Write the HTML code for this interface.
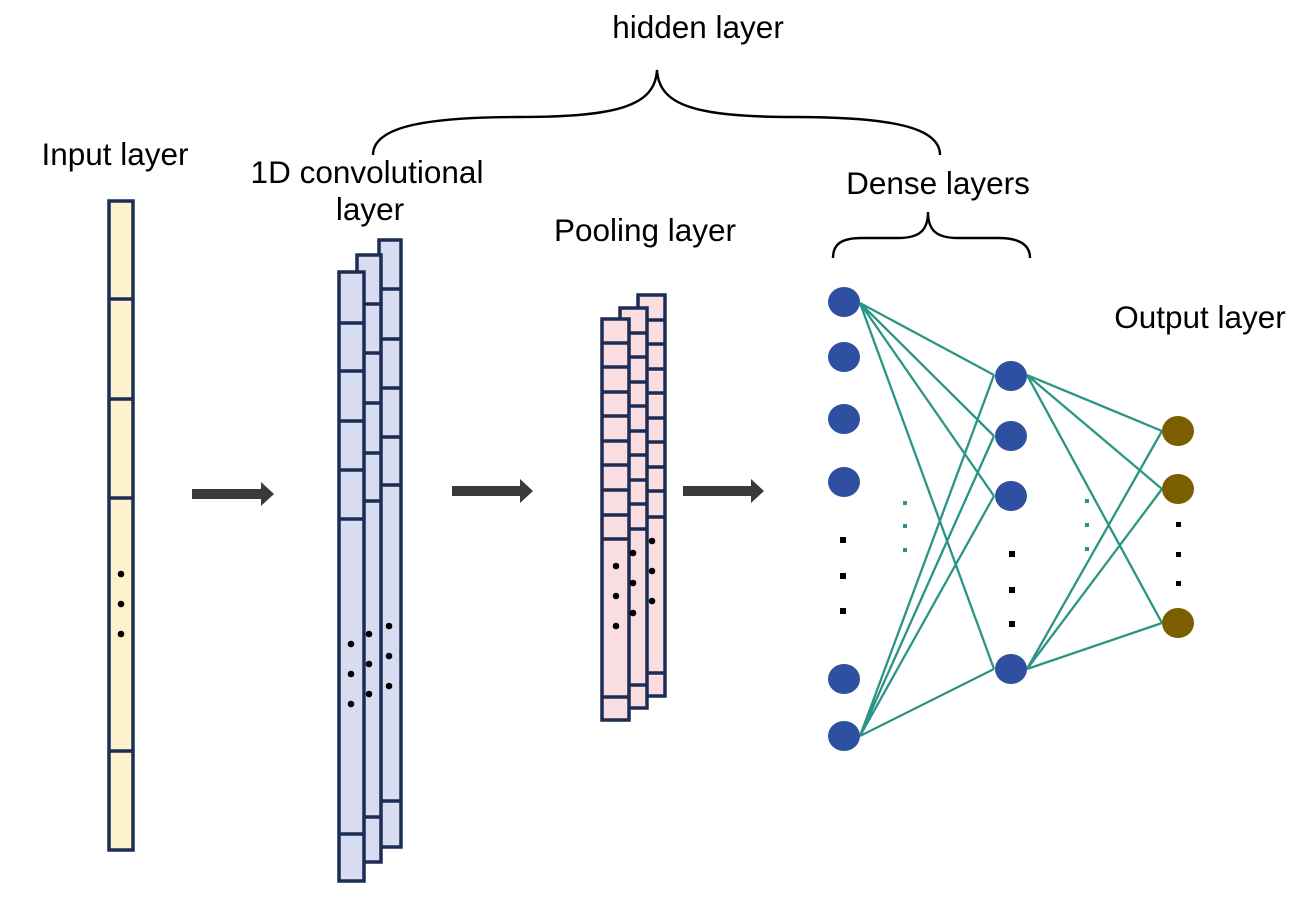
<!DOCTYPE html>
<html><head><meta charset="utf-8"><style>
html,body{margin:0;padding:0;background:#fff;}
svg text{font-family:"Liberation Sans",Arial,sans-serif;font-size:31.5px;fill:#000;}
</style></head><body>
<svg width="1306" height="908" viewBox="0 0 1306 908" xmlns="http://www.w3.org/2000/svg">
<!-- texts -->
<text x="698" y="38" text-anchor="middle">hidden layer</text>
<text x="115" y="165" text-anchor="middle">Input layer</text>
<text x="367" y="183" text-anchor="middle">1D convolutional</text>
<text x="370" y="220" text-anchor="middle">layer</text>
<text x="645" y="241" text-anchor="middle">Pooling layer</text>
<text x="938" y="194" text-anchor="middle">Dense layers</text>
<text x="1200" y="328" text-anchor="middle">Output layer</text>
<!-- braces -->
<g fill="none" stroke="#000" stroke-width="2.4">
<path d="M373,155 C373,128 420,117 520,117 C620,117 655,105 657,70 C659,105 694,117 794,117 C894,117 940,128 940,155"/>
<path d="M833,258 C833,245 840,238 862,238 L898,238 C920,238 928,230 928,212 C928,230 936,238 958,238 L998,238 C1020,238 1030,245 1030,258"/>
</g>
<!-- input layer -->
<g fill="#fdf2cc" stroke="#1c2d55" stroke-width="3.5">
<rect x="109" y="201" width="24" height="649"/>
<path d="M109,299H133M109,399H133M109,498H133M109,751H133" fill="none"/>
</g>
<g fill="#000"><circle cx="121" cy="574" r="3.3"/><circle cx="121" cy="604" r="3.3"/><circle cx="121" cy="634" r="3.3"/></g>
<!-- conv layer -->
<g fill="#d8dcf0" stroke="#1c2d55" stroke-width="3.5">
<rect x="379" y="240" width="22" height="607"/>
<path d="M379,289H401M379,339H401M379,388H401M379,437H401M379,485H401M379,801H401" fill="none"/>
<rect x="357" y="255" width="24" height="607"/>
<path d="M357,304H381M357,353H381M357,403H381M357,453H381M357,501H381M357,817H381" fill="none"/>
<rect x="339" y="272" width="25" height="609"/>
<path d="M339,323H364M339,371H364M339,421H364M339,470H364M339,519H364M339,834H364" fill="none"/>
</g>
<g fill="#000">
<circle cx="351" cy="644" r="3.3"/><circle cx="351" cy="674" r="3.3"/><circle cx="351" cy="704" r="3.3"/>
<circle cx="369" cy="634" r="3.3"/><circle cx="369" cy="664" r="3.3"/><circle cx="369" cy="694" r="3.3"/>
<circle cx="389" cy="626" r="3.3"/><circle cx="389" cy="656" r="3.3"/><circle cx="389" cy="686" r="3.3"/>
</g>
<!-- pooling layer -->
<g fill="#f9dde0" stroke="#1c2d55" stroke-width="3.5">
<rect x="638" y="295" width="27" height="401"/>
<path d="M638,320H665M638,344H665M638,369H665M638,393H665M638,418H665M638,442H665M638,467H665M638,491H665M638,517H665M638,673H665" fill="none"/>
<rect x="620" y="308" width="27" height="400"/>
<path d="M620,333H647M620,357H647M620,382H647M620,406H647M620,431H647M620,455H647M620,480H647M620,504H647M620,529H647M620,685H647" fill="none"/>
<rect x="602" y="319" width="27" height="401"/>
<path d="M602,343H629M602,367H629M602,392H629M602,416H629M602,441H629M602,465H629M602,490H629M602,515H629M602,539H629M602,697H629" fill="none"/>
</g>
<g fill="#000">
<circle cx="616" cy="566" r="3.3"/><circle cx="616" cy="596" r="3.3"/><circle cx="616" cy="626" r="3.3"/>
<circle cx="633" cy="553" r="3.3"/><circle cx="633" cy="583" r="3.3"/><circle cx="633" cy="613" r="3.3"/>
<circle cx="652" cy="541" r="3.3"/><circle cx="652" cy="571" r="3.3"/><circle cx="652" cy="601" r="3.3"/>
</g>
<!-- arrows -->
<g fill="#3a3a3a">
<path d="M192,489H261V482L274,494L261,506V499H192Z"/>
<path d="M452,486H520V479L533,491L520,503V496H452Z"/>
<path d="M683,486H751V479L764,491L751,503V496H683Z"/>
</g>
<!-- connections -->
<g stroke="#2a9585" stroke-width="2.3" fill="none">
<path d="M860,303L994,375M860,303L994,436M860,303L994,496M860,303L994,669"/>
<path d="M860,736L994,375M860,736L994,436M860,736L994,496M860,736L994,669"/>
<path d="M1027,375L1162,431M1027,375L1162,489M1027,375L1162,623"/>
<path d="M1027,669L1162,431M1027,669L1162,489M1027,669L1162,623"/>
</g>
<!-- nodes -->
<g fill="#2f50a0">
<ellipse cx="844" cy="302" rx="16" ry="15"/><ellipse cx="844" cy="357" rx="16" ry="15"/>
<ellipse cx="844" cy="419" rx="16" ry="15"/><ellipse cx="844" cy="482" rx="16" ry="15"/>
<ellipse cx="844" cy="679" rx="16" ry="15"/><ellipse cx="844" cy="736" rx="16" ry="15"/>
<ellipse cx="1011" cy="376" rx="16" ry="15"/><ellipse cx="1011" cy="436" rx="16" ry="15"/>
<ellipse cx="1011" cy="496" rx="16" ry="15"/><ellipse cx="1011" cy="669" rx="16" ry="15"/>
</g>
<g fill="#7a5e00">
<ellipse cx="1178" cy="431" rx="16" ry="15"/><ellipse cx="1178" cy="489" rx="16" ry="15"/><ellipse cx="1178" cy="623" rx="16" ry="15"/>
</g>
<!-- dots -->
<g fill="#000">
<rect x="840" y="537" width="6" height="6"/><rect x="840" y="573" width="6" height="6"/><rect x="840" y="608" width="6" height="6"/>
<rect x="1009" y="551" width="6" height="6"/><rect x="1009" y="587" width="6" height="6"/><rect x="1009" y="621" width="6" height="6"/>
<rect x="1176" y="522" width="5" height="5"/><rect x="1176" y="552" width="5" height="5"/><rect x="1176" y="581" width="5" height="5"/>
</g>
<g fill="#2a9595">
<rect x="903" y="501" width="4" height="4"/><rect x="903" y="524" width="4" height="4"/><rect x="903" y="548" width="4" height="4"/>
<rect x="1085" y="499" width="4" height="4"/><rect x="1085" y="523" width="4" height="4"/><rect x="1085" y="547" width="4" height="4"/>
</g>
</svg>
</body></html>
